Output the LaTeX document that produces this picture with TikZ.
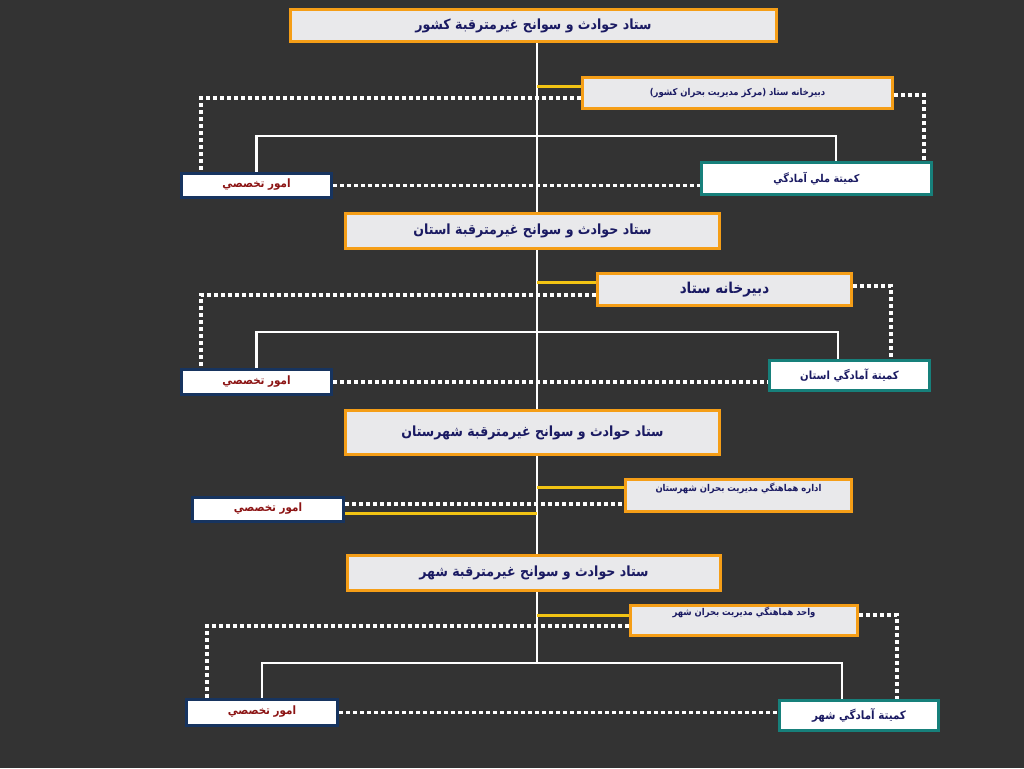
\documentclass[tikz,border=0pt]{standalone}
\usepackage{fontspec}
\TeXXeTstate=1
\newfontfamily\arabicfont[Script=Arabic, FakeStretch=0.9]{DejaVu Sans}
\usetikzlibrary{calc}
\pgfdeclarelayer{backdrop}
\pgfdeclarelayer{bg}
\pgfsetlayers{backdrop,bg,main}
\definecolor{bgc}{HTML}{333333}
\definecolor{orangec}{HTML}{F59E17}
\definecolor{boxfill}{HTML}{E9E9EB}
\definecolor{navyt}{HTML}{1A1A62}
\definecolor{redt}{HTML}{8C1414}
\definecolor{navyb}{HTML}{17345F}
\definecolor{tealb}{HTML}{17807B}
\definecolor{yellowc}{HTML}{F2C414}
\newcommand\rtltext[1]{\beginR #1\endR}
\newcommand\setfs[1]{\fontsize{#1}{#1}\selectfont}
\tikzset{
  basebox/.style={rectangle, inner sep=0pt, font=\arabicfont\bfseries},
  obox/.style={basebox, draw=orangec, line width=3.5pt, fill=boxfill, text=navyt},
  abox/.style={basebox, draw=navyb, line width=3pt, fill=white, text=redt},
  kbox/.style={basebox, draw=tealb, line width=3pt, fill=white, text=navyt},
  wline/.style={draw=white, line width=2.5pt},
  dline/.style={draw=white, line width=3.5pt, dash pattern=on 4pt off 3pt},
  yline/.style={draw=yellowc, line width=3pt},
}
\begin{document}
\begin{tikzpicture}[x=1pt,y=-1pt]
\begin{pgfonlayer}{backdrop}
\fill[bgc] (0,0) rectangle (1024,768);
\end{pgfonlayer}
\useasboundingbox (0,0) rectangle (1024,768);

% level 1
\node[obox, minimum width=486pt, minimum height=32pt] (L1) at (533.5,25.5) {\setfs{14}\rtltext{ستاد حوادث و سوانح غيرمترقبة كشور}};
\node[obox, minimum width=310pt, minimum height=31pt] (S1) at (737.5,93) {\setfs{9.4}\rtltext{دبيرخانه ستاد (مركز مديريت بحران كشور)}};
\node[abox, minimum width=150pt, minimum height=24pt, text height=8pt, text depth=4pt] (A1) at (256.5,185.5) {\setfs{11.5}\rtltext{امور تخصصي}};
\node[kbox, minimum width=230pt, minimum height=32pt] (K1) at (816.5,178.5) {\setfs{10.8}\rtltext{كميتة ملي آمادگي}};

% level 2
\node[obox, minimum width=374pt, minimum height=35pt] (L2) at (532.5,231) {\setfs{14}\rtltext{ستاد حوادث و سوانح غيرمترقبة استان}};
\node[obox, minimum width=254pt, minimum height=32pt] (S2) at (724.5,289.5) {\setfs{15}\rtltext{دبيرخانه ستاد}};
\node[abox, minimum width=150pt, minimum height=25pt, text height=8pt, text depth=4pt] (A2) at (256.5,382) {\setfs{11.5}\rtltext{امور تخصصي}};
\node[kbox, minimum width=160pt, minimum height=30pt] (K2) at (849.5,375.5) {\setfs{11.2}\rtltext{كميتة  آمادگي استان}};

% level 3
\node[obox, minimum width=374pt, minimum height=44pt] (L3) at (532.5,432.5) {\setfs{14}\rtltext{ستاد حوادث و سوانح غيرمترقبة شهرستان}};
\node[obox, minimum width=226pt, minimum height=32pt, text height=7pt, text depth=16pt] (S3) at (738.5,495.5) {\setfs{9.4}\rtltext{اداره  هماهنگي مديريت بحران شهرستان}};
\node[abox, minimum width=151pt, minimum height=24pt, text height=8pt, text depth=4pt] (A3) at (268,509.5) {\setfs{11.5}\rtltext{امور تخصصي}};

% level 4
\node[obox, minimum width=373pt, minimum height=35pt] (L4) at (534,573) {\setfs{14}\rtltext{ستاد حوادث و سوانح غيرمترقبة شهر}};
\node[obox, minimum width=227pt, minimum height=30pt, text height=7pt, text depth=18pt] (S4) at (744,620.5) {\setfs{9.4}\rtltext{واحد  هماهنگي مديريت بحران شهر}};
\node[abox, minimum width=151pt, minimum height=26pt, text height=8pt, text depth=4pt] (A4) at (262,712.5) {\setfs{11.5}\rtltext{امور تخصصي}};
\node[kbox, minimum width=159pt, minimum height=30pt] (K4) at (859,715.5) {\setfs{11.5}\rtltext{كميتة  آمادگي شهر}};

\coordinate (h1) at (537,136);
\coordinate (h2) at (537,332);
\coordinate (h4) at (537,663);

\begin{pgfonlayer}{bg}
% trunk
\draw[wline] (L1.south -| h1) -- (h4);
% brackets
\draw[wline] (A1.north) |- (h1) -| ([xshift=19.5pt]K1.north);
\draw[wline] (A2.north) |- (h2) -| ([xshift=-11.5pt]K2.north);
\draw[wline] (A4.north) |- (h4) -| ([xshift=-17pt]K4.north);
% level 1 dotted / yellow
\draw[dline] ([yshift=-5pt]S1.west) -| ([xshift=-55.5pt]A1.north);
\draw[dline] ([yshift=-2pt]S1.east) -| ([xshift=107.5pt]K1.north);
\draw[dline] (A1.east) -- (A1.east -| K1.west);
\draw[yline] ([yshift=7pt]S1.west) -- ([yshift=7pt]S1.west -| h1);
% level 2
\draw[dline] ([yshift=-5.5pt]S2.west) -| ([xshift=-55.5pt]A2.north);
\draw[dline] ([yshift=3.5pt]S2.east) -| ([xshift=41.5pt]K2.north);
\draw[dline] (A2.east) -- (A2.east -| K2.west);
\draw[yline] ([yshift=7.5pt]S2.west) -- ([yshift=7.5pt]S2.west -| h1);
% level 3
\draw[dline] ([yshift=5.5pt]A3.east) -- ([yshift=5.5pt]A3.east -| S3.west);
\draw[yline] ([yshift=-3.5pt]A3.east) -- ([yshift=-3.5pt]A3.east -| h1);
\draw[yline] ([yshift=8.5pt]S3.west) -- ([yshift=8.5pt]S3.west -| h1);
% level 4
\draw[dline] ([yshift=-5.5pt]S4.west) -| ([xshift=-55pt]A4.north);
\draw[dline] ([yshift=5.5pt]S4.east) -| ([xshift=38pt]K4.north);
\draw[dline] (A4.east) -- (A4.east -| K4.west);
\draw[yline] ([yshift=5.5pt]S4.west) -- ([yshift=5.5pt]S4.west -| h1);
\end{pgfonlayer}
\end{tikzpicture}
\end{document}
